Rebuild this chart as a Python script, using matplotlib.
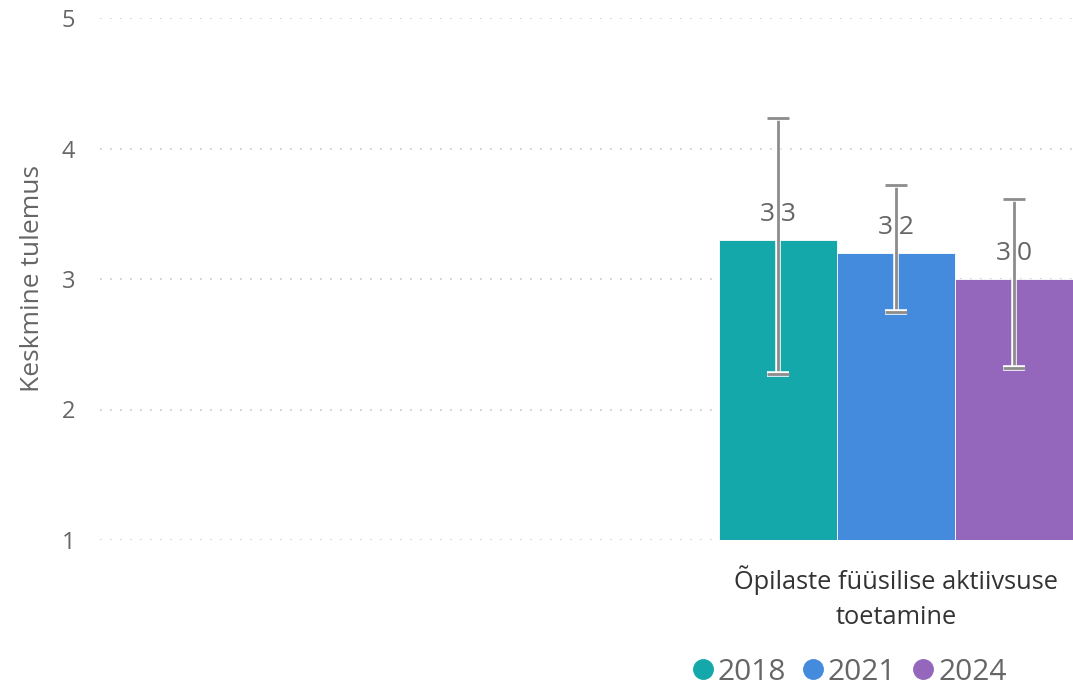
import numpy as np
import matplotlib.pyplot as plt
import matplotlib.patheffects as pe

plt.rcParams['font.family'] = ['Open Sans', 'DejaVu Sans']

years = ['2018', '2021', '2024']
colors = ['#15a8ab', '#448bdd', '#9467bd']
values = [3.3, 3.2, 3.0]
err_low = [2.27, 2.75, 2.32]
err_high = [4.23, 3.72, 3.61]
category = 'Õpilaste füüsilise aktiivsuse\ntoetamine'

fig = plt.figure(figsize=(10.73, 6.89), dpi=100)
ax = fig.add_axes([100/1073, 149/689, 973/1073, 522/689])

x = np.array([-1, 0, 1])
handles = []
for i in range(len(years)):
    ax.bar(x[i], values[i], width=1.0, color=colors[i], edgecolor='white', linewidth=0.6,
           label=years[i], zorder=2)
    handles.append(plt.Line2D([], [], marker='o', linestyle='', markersize=14,
                              color=colors[i], label=years[i]))
    ax.annotate(f'{values[i]:.1f}', (x[i], values[i]), xytext=(0, 9), textcoords='offset points',
                ha='center', va='bottom', fontsize=19, color='#666666', zorder=3)

yerr = [np.array(values) - np.array(err_low), np.array(err_high) - np.array(values)]
eb = ax.errorbar(x, values, yerr=yerr, fmt='none', ecolor='#8c8c8c', elinewidth=2,
                 capsize=8, capthick=2, zorder=4)
for art in eb.lines[1] + eb.lines[2]:
    art.set_path_effects([pe.Stroke(linewidth=4, foreground='white'), pe.Normal()])

ax.set_xlim(1.5 - 973/118, 1.5)
ax.set_ylim(1, 5)
ax.set_yticks([1, 2, 3, 4, 5])
ax.set_xticks([0])
ax.set_xticklabels([category], fontsize=18.3, color='#333333', linespacing=1.55)
ax.tick_params(axis='x', length=0, pad=18)
ax.tick_params(axis='y', length=0, pad=18, labelsize=17, labelcolor='#666666')
ax.grid(axis='y', linestyle=(0, (1, 5)), color='#c8c8c8', linewidth=1.2, zorder=0)
ax.set_axisbelow(True)
for s in ax.spines.values():
    s.set_visible(False)
ax.set_ylabel('Keskmine tulemus', fontsize=19, color='#666666', labelpad=12)

fig.legend(handles=handles, loc='center left', bbox_to_anchor=(661/1073, 1 - 672/689),
           ncol=3, frameon=False, fontsize=21.5, handletextpad=0.0, columnspacing=0.4,
           handlelength=1.0, labelcolor='#666666')

fig.savefig('out.png', dpi=100)
